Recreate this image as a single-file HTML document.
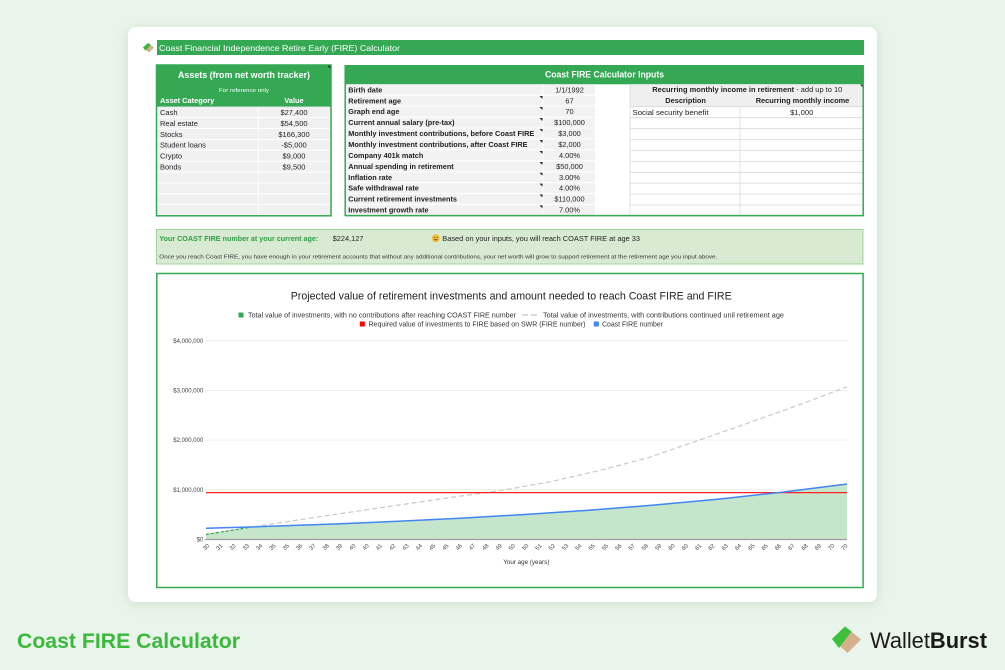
<!DOCTYPE html>
<html><head><meta charset="utf-8"><style>
html,body{margin:0;padding:0;background:#e9f5ea;}
svg{display:block;}
text{font-family:"Liberation Sans",Arial,sans-serif;}
</style></head><body>
<svg width="1005" height="670" viewBox="0 0 1005 670" xmlns="http://www.w3.org/2000/svg">
<defs>
<filter id="sh" x="-10%" y="-10%" width="120%" height="120%"><feDropShadow dx="0" dy="2" stdDeviation="6" flood-color="#6f9f7a" flood-opacity="0.25"/></filter>
</defs>
<rect width="1005" height="670" fill="#e9f5ea"/>
<rect x="128" y="27" width="749" height="575" rx="8" fill="#fff" filter="url(#sh)"/>

<!-- header bar -->
<polygon points="143,47.5 148,43 154,47.5 149,52.5" fill="#d6b08a"/>
<polygon points="143,47.5 148,43 150.8,44.8 145.6,50.8" fill="#3cb83c"/>
<rect x="157" y="40" width="707" height="15" fill="#34a853"/>
<text x="159" y="51" font-size="8.2" fill="#fff" textLength="241" lengthAdjust="spacingAndGlyphs">Coast Financial Independence Retire Early (FIRE) Calculator</text>

<!-- Assets table -->
<rect x="156.5" y="65" width="174.5" height="42" fill="#34a853"/>
<rect x="156.5" y="107" width="174.5" height="108.5" fill="#f1f1f1"/>
<g stroke="#ffffff" stroke-width="1">
<line x1="157" y1="117.6" x2="330" y2="117.6"/><line x1="157" y1="128.5" x2="330" y2="128.5"/>
<line x1="157" y1="139.4" x2="330" y2="139.4"/><line x1="157" y1="150.3" x2="330" y2="150.3"/>
<line x1="157" y1="161.2" x2="330" y2="161.2"/><line x1="157" y1="172.1" x2="330" y2="172.1"/>
<line x1="157" y1="183" x2="330" y2="183"/><line x1="157" y1="193.9" x2="330" y2="193.9"/>
<line x1="157" y1="204.8" x2="330" y2="204.8"/>
<line x1="258.3" y1="107" x2="258.3" y2="215.5"/>
</g>
<line x1="157" y1="106.8" x2="330" y2="106.8" stroke="#dcdcdc" stroke-width="0.6"/>
<rect x="156.5" y="65" width="174.5" height="150.8" fill="none" stroke="#34a853" stroke-width="1.5"/>
<polygon points="327.5,65.8 330.3,65.8 330.3,68.6" fill="#222"/>
<text x="244" y="78" font-size="9.3" font-weight="bold" fill="#fff" text-anchor="middle" textLength="132" lengthAdjust="spacingAndGlyphs">Assets (from net worth tracker)</text>
<text x="244" y="92" font-size="5.8" fill="#fff" text-anchor="middle" textLength="50" lengthAdjust="spacingAndGlyphs">For reference only</text>
<text x="160" y="103" font-size="7.4" font-weight="bold" fill="#fff">Asset Category</text>
<text x="294" y="103" font-size="7.4" font-weight="bold" fill="#fff" text-anchor="middle">Value</text>
<g font-size="7.5" fill="#222">
<text x="160" y="115">Cash</text><text x="294" y="115" text-anchor="middle">$27,400</text>
<text x="160" y="125.9">Real estate</text><text x="294" y="125.9" text-anchor="middle">$54,500</text>
<text x="160" y="136.8">Stocks</text><text x="294" y="136.8" text-anchor="middle">$166,300</text>
<text x="160" y="147.7">Student loans</text><text x="294" y="147.7" text-anchor="middle">-$5,000</text>
<text x="160" y="158.6">Crypto</text><text x="294" y="158.6" text-anchor="middle">$9,000</text>
<text x="160" y="169.5">Bonds</text><text x="294" y="169.5" text-anchor="middle">$9,500</text>
</g>

<!-- Inputs table -->
<rect x="345" y="65" width="518.5" height="19.3" fill="#34a853"/>
<text x="604.5" y="77.5" font-size="9.3" font-weight="bold" fill="#fff" text-anchor="middle" textLength="119" lengthAdjust="spacingAndGlyphs">Coast FIRE Calculator Inputs</text>
<rect x="345" y="84.3" width="250" height="131.2" fill="#f2f2f2"/>
<g stroke="#ffffff" stroke-width="1">
<line x1="345" y1="95.2" x2="595" y2="95.2"/><line x1="345" y1="106.1" x2="595" y2="106.1"/>
<line x1="345" y1="117.1" x2="595" y2="117.1"/><line x1="345" y1="128" x2="595" y2="128"/>
<line x1="345" y1="138.9" x2="595" y2="138.9"/><line x1="345" y1="149.8" x2="595" y2="149.8"/>
<line x1="345" y1="160.7" x2="595" y2="160.7"/><line x1="345" y1="171.7" x2="595" y2="171.7"/>
<line x1="345" y1="182.6" x2="595" y2="182.6"/><line x1="345" y1="193.5" x2="595" y2="193.5"/>
<line x1="345" y1="204.4" x2="595" y2="204.4"/>
<line x1="543" y1="84.3" x2="543" y2="215.5"/>
</g>
<g fill="#222">
<polygon points="539.5,96 542.5,96 542.5,99"/><polygon points="539.5,107 542.5,107 542.5,110"/>
<polygon points="539.5,118 542.5,118 542.5,121"/><polygon points="539.5,129 542.5,129 542.5,132"/>
<polygon points="539.5,140 542.5,140 542.5,143"/><polygon points="539.5,151 542.5,151 542.5,154"/>
<polygon points="539.5,162 542.5,162 542.5,165"/><polygon points="539.5,172.7 542.5,172.7 542.5,175.7"/>
<polygon points="539.5,183.6 542.5,183.6 542.5,186.6"/><polygon points="539.5,194.5 542.5,194.5 542.5,197.5"/>
<polygon points="539.5,205.4 542.5,205.4 542.5,208.4"/>
</g>
<g font-size="7.3" font-weight="bold" fill="#222">
<text x="348.3" y="92.4">Birth date</text>
<text x="348.3" y="103.3">Retirement age</text>
<text x="348.3" y="114.2">Graph end age</text>
<text x="348.3" y="125.2">Current annual salary (pre-tax)</text>
<text x="348.3" y="136.1" textLength="186" lengthAdjust="spacingAndGlyphs">Monthly investment contributions, before Coast FIRE</text>
<text x="348.3" y="147" textLength="179.3" lengthAdjust="spacingAndGlyphs">Monthly investment contributions, after Coast FIRE</text>
<text x="348.3" y="157.9">Company 401k match</text>
<text x="348.3" y="168.8">Annual spending in retirement</text>
<text x="348.3" y="179.8">Inflation rate</text>
<text x="348.3" y="190.7">Safe withdrawal rate</text>
<text x="348.3" y="201.6">Current retirement investments</text>
<text x="348.3" y="212.5">Investment growth rate</text>
</g>
<g font-size="7.4" fill="#222" text-anchor="middle">
<text x="569.5" y="92.4">1/1/1992</text>
<text x="569.5" y="103.3">67</text>
<text x="569.5" y="114.2">70</text>
<text x="569.5" y="125.2">$100,000</text>
<text x="569.5" y="136.1">$3,000</text>
<text x="569.5" y="147">$2,000</text>
<text x="569.5" y="157.9">4.00%</text>
<text x="569.5" y="168.8">$50,000</text>
<text x="569.5" y="179.8">3.00%</text>
<text x="569.5" y="190.7">4.00%</text>
<text x="569.5" y="201.6">$110,000</text>
<text x="569.5" y="212.5">7.00%</text>
</g>

<!-- right table -->
<rect x="630" y="84.3" width="233" height="22.4" fill="#efefef"/>
<g stroke="#d9d9d9" stroke-width="0.8">
<line x1="630" y1="106.7" x2="863" y2="106.7"/>
<line x1="630" y1="117.7" x2="863" y2="117.7"/><line x1="630" y1="128.7" x2="863" y2="128.7"/>
<line x1="630" y1="139.5" x2="863" y2="139.5"/><line x1="630" y1="150.5" x2="863" y2="150.5"/>
<line x1="630" y1="161.5" x2="863" y2="161.5"/><line x1="630" y1="172.3" x2="863" y2="172.3"/>
<line x1="630" y1="183.2" x2="863" y2="183.2"/><line x1="630" y1="194" x2="863" y2="194"/>
<line x1="630" y1="205" x2="863" y2="205"/>
<line x1="740" y1="106.7" x2="740" y2="215.5"/>
<line x1="630" y1="84.3" x2="630" y2="215.5"/>
</g>
<polygon points="860,84.6 862.8,84.6 862.8,87.4" fill="#222"/>
<text x="652.3" y="92.2" font-size="7.4" fill="#222" textLength="190" lengthAdjust="spacingAndGlyphs"><tspan font-weight="bold">Recurring monthly income in retirement</tspan><tspan> - add up to 10</tspan></text>
<text x="685.6" y="103.2" font-size="7.4" font-weight="bold" fill="#222" text-anchor="middle">Description</text>
<text x="802.5" y="103.2" font-size="7.4" font-weight="bold" fill="#222" text-anchor="middle" textLength="93.6" lengthAdjust="spacingAndGlyphs">Recurring monthly income</text>
<text x="632.5" y="114.8" font-size="7.6" fill="#222" textLength="76" lengthAdjust="spacingAndGlyphs">Social security benefit</text>
<text x="801.7" y="114.8" font-size="7.6" fill="#222" text-anchor="middle">$1,000</text>

<!-- inputs green border -->
<g stroke="#34a853" stroke-width="1.5" fill="none">
<line x1="345.2" y1="65" x2="345.2" y2="216"/>
<line x1="345" y1="215.6" x2="863.8" y2="215.6"/>
<line x1="863.2" y1="65" x2="863.2" y2="216"/>
</g>

<!-- banner -->
<rect x="156.5" y="229.5" width="706.5" height="34.5" fill="#d9ead3" stroke="#a2d49c" stroke-width="1"/>
<text x="159.3" y="241" font-size="7.2" font-weight="bold" fill="#2f9e44" textLength="159" lengthAdjust="spacingAndGlyphs">Your COAST FIRE number at your current age:</text>
<text x="332.7" y="241" font-size="7.4" fill="#222" textLength="30.7" lengthAdjust="spacingAndGlyphs">$224,127</text>
<circle cx="435.8" cy="238.3" r="4" fill="#f5bf3a"/>
<circle cx="434.3" cy="237.3" r="0.6" fill="#5a3b10"/><circle cx="437.3" cy="237.3" r="0.6" fill="#5a3b10"/>
<path d="M433.8,239.2 Q435.8,241.6 437.8,239.2 Z" fill="#5a3b10"/>
<text x="442.3" y="241" font-size="7.4" fill="#222" textLength="197.7" lengthAdjust="spacingAndGlyphs">Based on your inputs, you will reach COAST FIRE at age 33</text>
<text x="159.3" y="258.3" font-size="5.6" fill="#333" textLength="558" lengthAdjust="spacingAndGlyphs">Once you reach Coast FIRE, you have enough in your retirement accounts that without any additional contributions, your net worth will grow to support retirement at the retirement age you input above.</text>

<!-- chart box -->
<rect x="156.8" y="273.5" width="706.3" height="314" fill="#fff" stroke="#34a853" stroke-width="1.5"/>
<text x="290.7" y="299.5" font-size="11" fill="#222" textLength="441" lengthAdjust="spacingAndGlyphs">Projected value of retirement investments and amount needed to reach Coast FIRE and FIRE</text>

<!-- legend -->
<rect x="238.5" y="312.5" width="5" height="5" fill="#34a853"/>
<text x="248" y="317.4" font-size="7" fill="#333" textLength="268" lengthAdjust="spacingAndGlyphs">Total value of investments, with no contributions after reaching COAST FIRE number</text>
<line x1="522" y1="315" x2="538" y2="315" stroke="#c4c4c4" stroke-width="1.2" stroke-dasharray="6,3"/>
<text x="543" y="317.4" font-size="7" fill="#333" textLength="241" lengthAdjust="spacingAndGlyphs">Total value of investments, with contributions continued unil retirement age</text>
<rect x="359.8" y="321.5" width="5" height="5" fill="#ff0000"/>
<text x="368.5" y="326.4" font-size="7" fill="#333" textLength="217" lengthAdjust="spacingAndGlyphs">Required value of investments to FIRE based on SWR (FIRE number)</text>
<rect x="593.8" y="321.5" width="5" height="5" fill="#4285f4"/>
<text x="602" y="326.4" font-size="7" fill="#333" textLength="61" lengthAdjust="spacingAndGlyphs">Coast FIRE number</text>

<!-- grid -->
<g stroke="#e8e8e8" stroke-width="0.8">
<line x1="205" y1="340.7" x2="847" y2="340.7"/>
<line x1="205" y1="390.4" x2="847" y2="390.4"/>
<line x1="205" y1="440.1" x2="847" y2="440.1"/>
<line x1="205" y1="489.8" x2="847" y2="489.8"/>
</g>
<g font-size="6" fill="#444" text-anchor="end">
<text x="203.3" y="342.8">$4,000,000</text>
<text x="203.3" y="392.5">$3,000,000</text>
<text x="203.3" y="442.2">$2,000,000</text>
<text x="203.3" y="491.9">$1,000,000</text>
<text x="203.3" y="541.6">$0</text>
</g>

<!-- series -->
<path d="M206,539.5 L206,534.5 L250,527.4 L270.1,526.7 L334.2,524.4 L398.3,521.7 L462.4,518.5 L526.5,514.8 L590.6,510.5 L654.7,505.4 L718.8,499.5 L782.9,492.5 L847,484.4 L847,539.5 Z" fill="#c5e6ca"/>
<polyline points="206,534.5 250,527.3 300,519.7 350,512.2 400,504.9 450,497.6 505,489.8 550,481.8 600,470.4 650,457.2 700,439.8 750,422.4 800,404.5 847,386.8" fill="none" stroke="#c9c9c9" stroke-width="1.2" stroke-dasharray="5,3"/>
<line x1="206" y1="534.5" x2="250" y2="527.3" stroke="#34a853" stroke-width="1.2" stroke-dasharray="3,2"/>
<line x1="206" y1="492.6" x2="847" y2="492.6" stroke="#ff2020" stroke-width="1.3"/>
<polyline points="206,528.3 250,527.0 270.1,526.3 334.2,524.0 398.3,521.3 462.4,518.1 526.5,514.4 590.6,510.1 654.7,505.0 718.8,499.1 782.9,492.1 847,484.0" fill="none" stroke="#4285f4" stroke-width="1.5"/>
<line x1="205" y1="539.5" x2="847" y2="539.5" stroke="#9e9e9e" stroke-width="1.2"/>

<!-- x labels -->
<g font-size="5.8" fill="#444" text-anchor="middle">
<text transform="translate(207.4,548.4) rotate(-45)">30</text>
<text transform="translate(220.7,548.4) rotate(-45)">31</text>
<text transform="translate(234.0,548.4) rotate(-45)">32</text>
<text transform="translate(247.3,548.4) rotate(-45)">33</text>
<text transform="translate(260.6,548.4) rotate(-45)">34</text>
<text transform="translate(273.9,548.4) rotate(-45)">35</text>
<text transform="translate(287.2,548.4) rotate(-45)">35</text>
<text transform="translate(300.5,548.4) rotate(-45)">36</text>
<text transform="translate(313.8,548.4) rotate(-45)">37</text>
<text transform="translate(327.1,548.4) rotate(-45)">38</text>
<text transform="translate(340.4,548.4) rotate(-45)">39</text>
<text transform="translate(353.7,548.4) rotate(-45)">40</text>
<text transform="translate(367.0,548.4) rotate(-45)">40</text>
<text transform="translate(380.3,548.4) rotate(-45)">41</text>
<text transform="translate(393.6,548.4) rotate(-45)">42</text>
<text transform="translate(406.9,548.4) rotate(-45)">43</text>
<text transform="translate(420.2,548.4) rotate(-45)">44</text>
<text transform="translate(433.5,548.4) rotate(-45)">45</text>
<text transform="translate(446.8,548.4) rotate(-45)">45</text>
<text transform="translate(460.1,548.4) rotate(-45)">46</text>
<text transform="translate(473.4,548.4) rotate(-45)">47</text>
<text transform="translate(486.7,548.4) rotate(-45)">48</text>
<text transform="translate(500.0,548.4) rotate(-45)">49</text>
<text transform="translate(513.3,548.4) rotate(-45)">50</text>
<text transform="translate(526.6,548.4) rotate(-45)">50</text>
<text transform="translate(539.9,548.4) rotate(-45)">51</text>
<text transform="translate(553.2,548.4) rotate(-45)">52</text>
<text transform="translate(566.5,548.4) rotate(-45)">53</text>
<text transform="translate(579.8,548.4) rotate(-45)">54</text>
<text transform="translate(593.1,548.4) rotate(-45)">55</text>
<text transform="translate(606.4,548.4) rotate(-45)">55</text>
<text transform="translate(619.7,548.4) rotate(-45)">56</text>
<text transform="translate(633.0,548.4) rotate(-45)">57</text>
<text transform="translate(646.3,548.4) rotate(-45)">58</text>
<text transform="translate(659.6,548.4) rotate(-45)">59</text>
<text transform="translate(672.9,548.4) rotate(-45)">60</text>
<text transform="translate(686.2,548.4) rotate(-45)">60</text>
<text transform="translate(699.5,548.4) rotate(-45)">61</text>
<text transform="translate(712.8,548.4) rotate(-45)">62</text>
<text transform="translate(726.1,548.4) rotate(-45)">63</text>
<text transform="translate(739.4,548.4) rotate(-45)">64</text>
<text transform="translate(752.7,548.4) rotate(-45)">65</text>
<text transform="translate(766.0,548.4) rotate(-45)">65</text>
<text transform="translate(779.3,548.4) rotate(-45)">66</text>
<text transform="translate(792.6,548.4) rotate(-45)">67</text>
<text transform="translate(805.9,548.4) rotate(-45)">68</text>
<text transform="translate(819.2,548.4) rotate(-45)">69</text>
<text transform="translate(832.5,548.4) rotate(-45)">70</text>
<text transform="translate(845.8,548.4) rotate(-45)">70</text>
</g>
<text x="503.3" y="564" font-size="6.5" fill="#333" textLength="46" lengthAdjust="spacingAndGlyphs">Your age (years)</text>

<!-- footer -->
<text x="17" y="648" font-size="21.3" font-weight="bold" fill="#3ab93b" textLength="223" lengthAdjust="spacingAndGlyphs">Coast FIRE Calculator</text>
<polygon points="832,639 845,626.5 861,639.5 847.5,653" fill="#d6b08a"/>
<polygon points="832,639 845,626.5 851.5,631.5 839,648" fill="#3cbf3c"/>
<text x="870" y="648" font-size="22" fill="#1a1a1a" textLength="117" lengthAdjust="spacingAndGlyphs"><tspan>Wallet</tspan><tspan font-weight="bold">Burst</tspan></text>
</svg>
</body></html>
